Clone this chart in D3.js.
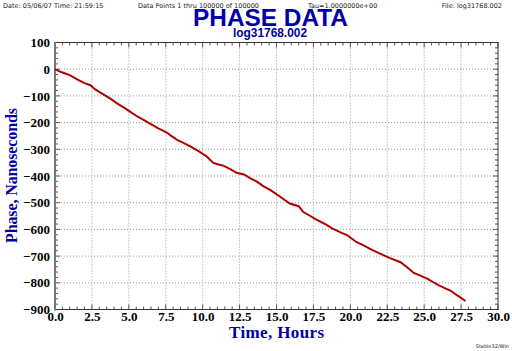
<!DOCTYPE html>
<html>
<head>
<meta charset="utf-8">
<style>
  body { margin: 0; background: #fff; }
  svg { display: block; }
  .hdr { font-family: 'DejaVu Sans', sans-serif; font-size: 6.5px; fill: #222; }
  .tick text { font-family: 'Liberation Serif', serif; font-weight: bold; font-size: 13px; fill: #000; }
  .ttl { font-family: 'Liberation Sans', Arial, sans-serif; font-weight: bold; fill: #0000a8; }
  .axlab { font-family: 'Liberation Serif', serif; font-weight: bold; font-size: 17px; fill: #0000a8; }
</style>
</head>
<body>
<svg width="512" height="351"></svg>
<script src="https://d3js.org/d3.v7.min.js"></script>
<script>
// phase vs time
let hours = [0, 0.3, 0.6, 1.0, 1.5, 2.0, 2.4, 2.7, 3.3, 3.8, 4.2, 4.7, 5.1, 5.6, 6.0, 6.4, 7.0, 7.6, 7.8, 8.3, 8.7, 9.2, 9.8, 10.3, 10.7, 11.0, 11.4, 11.9, 12.3, 12.8, 13.2, 13.7, 14.1, 14.6, 15.2, 15.9, 16.5, 16.8, 17.2, 17.7, 18.3, 18.8, 19.3, 19.8, 20.4, 20.9, 21.3, 21.9, 22.5, 22.9, 23.4, 23.8, 24.3, 24.7, 25.2, 25.6, 26.0, 26.4, 26.8, 27.1, 27.4, 27.8];
let phase = [0, -8, -14, -22, -38, -52, -60, -75, -95, -112, -128, -145, -160, -178, -190, -203, -222, -238, -247, -266, -276, -290, -310, -328, -350, -356, -361, -375, -388, -394, -408, -422, -438, -453, -476, -503, -513, -534, -547, -563, -580, -597, -610, -622, -647, -660, -672, -688, -703, -712, -723, -740, -763, -772, -784, -797, -810, -820, -830, -842, -853, -868];

let xTicks = [0, 2.5, 5, 7.5, 10, 12.5, 15, 17.5, 20, 22.5, 25, 27.5, 30];
let yTicks = [100, 0, -100, -200, -300, -400, -500, -600, -700, -800, -900];

let svg = d3.select("svg");
let pLeft = 55, pRight = 498, pTop = 42.5, pBottom = 309.5;

let x = d3.scaleLinear().domain([0, 30]).range([pLeft, pRight]);
let y = d3.scaleLinear().domain([-900, 100]).range([pBottom, pTop]);

// header line
svg.append("text").attr("class", "hdr").attr("x", 3).attr("y", 8).text("Date: 05/06/07   Time: 21:59:15");
svg.append("text").attr("class", "hdr").attr("x", 138).attr("y", 8).text("Data Points 1 thru 100000 of 100000");
svg.append("text").attr("class", "hdr").attr("x", 308).attr("y", 8).text("Tau=1.0000000e+00");
svg.append("text").attr("class", "hdr").attr("x", 502).attr("y", 8).attr("text-anchor", "end").text("File: log31768.002");

svg.append("text").attr("class", "ttl").attr("x", 193).attr("y", 26)
    .attr("textLength", 155).attr("lengthAdjust", "spacingAndGlyphs")
    .style("font-size", "24px").text("PHASE DATA");
svg.append("text").attr("class", "ttl").attr("x", 233).attr("y", 37)
    .attr("textLength", 74).attr("lengthAdjust", "spacingAndGlyphs")
    .style("font-size", "12px").text("log31768.002");

// grid
svg.append("g").selectAll("line").data(xTicks.slice(1, -1)).join("line")
    .attr("x1", d => x(d)).attr("x2", d => x(d)).attr("y1", pTop).attr("y2", pBottom)
    .style("stroke", "#999").style("stroke-dasharray", "1,2");
svg.append("g").selectAll("line").data(yTicks.slice(1, -1)).join("line")
    .attr("y1", d => y(d)).attr("y2", d => y(d)).attr("x1", pLeft).attr("x2", pRight)
    .style("stroke", "#999").style("stroke-dasharray", "1,2");

// minor ticks on all four sides
let xMinor = d3.range(0, 30.01, 0.5);
let yMinor = d3.range(-900, 100.01, 20);
let tk = svg.append("g").style("stroke", "#555").style("stroke-width", 1);
xMinor.forEach(v => {
    let len = (v % 2.5 === 0) ? 5 : 3;
    tk.append("line").attr("x1", x(v)).attr("x2", x(v)).attr("y1", pBottom).attr("y2", pBottom - len);
    tk.append("line").attr("x1", x(v)).attr("x2", x(v)).attr("y1", pTop).attr("y2", pTop + len);
});
yMinor.forEach(v => {
    let len = (v % 100 === 0) ? 5 : 3;
    tk.append("line").attr("y1", y(v)).attr("y2", y(v)).attr("x1", pLeft).attr("x2", pLeft + len);
    tk.append("line").attr("y1", y(v)).attr("y2", y(v)).attr("x1", pRight).attr("x2", pRight - len);
});

// frame
svg.append("rect").attr("x", pLeft).attr("y", pTop).attr("width", pRight - pLeft).attr("height", pBottom - pTop)
    .style("fill", "none").style("stroke", "#333").style("stroke-width", 1);
svg.append("line").attr("x1", pLeft).attr("x2", pLeft).attr("y1", pTop).attr("y2", pBottom + 1)
    .style("stroke", "#777").style("stroke-width", 2);

// axes labels
let xAxis = d3.axisBottom(x).tickValues(xTicks).tickFormat(d3.format(".1f")).tickSize(0).tickPadding(2);
svg.append("g").attr("transform", `translate(0,${pBottom})`).call(xAxis)
    .call(g => g.select(".domain").remove());
let yAxis = d3.axisLeft(y).tickValues(yTicks).tickFormat(d3.format("d")).tickSize(0).tickPadding(5);
svg.append("g").attr("transform", `translate(${pLeft},0)`).call(yAxis)
    .call(g => g.select(".domain").remove());

svg.append("text").attr("class", "axlab").attr("x", 229).attr("y", 338)
    .attr("textLength", 95).text("Time, Hours");
svg.append("text").attr("class", "axlab").attr("transform", "translate(17,243) rotate(-90)")
    .attr("textLength", 135).style("font-size", "16px").text("Phase, Nanoseconds");

svg.append("text").attr("class", "hdr").attr("x", 509).attr("y", 348).attr("text-anchor", "end")
    .style("font-size", "5px").text("Stable32/Win");

// data
let line = d3.line().x((d, i) => x(hours[i])).y(d => y(d));
svg.append("path").datum(phase).attr("d", line)
    .style("fill", "none").style("stroke", "#b00000").style("stroke-width", 2);
</script>
</body>
</html>
